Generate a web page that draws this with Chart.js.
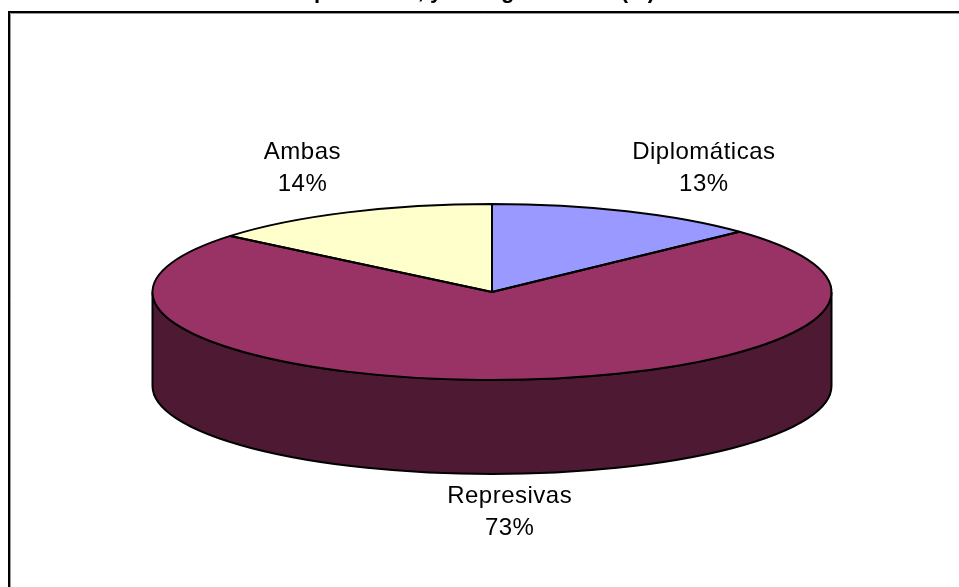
<!DOCTYPE html>
<html>
<head>
<meta charset="utf-8">
<title>Respuestas</title>
<script src="https://cdn.jsdelivr.net/npm/chart.js@4"></script>
<style>
  html, body { margin: 0; padding: 0; background: #fff; overflow: hidden; }
  #wrap { width: 959px; height: 587px; position: relative; }
</style>
</head>
<body>
<div id="wrap"><canvas id="pie"></canvas></div>
<script>
// values
const categories = ['Diplomáticas', 'Represivas', 'Ambas'];
const shares = [13, 73, 14];
const sliceColors = ['#9999FF', '#993366', '#FFFFCC'];
const wallColors = ['#4D4D80', '#4D1933', '#808066'];
const chartTitle = 'Tipos de medidas ante las otras presiones, y de región al Sur (%)';

// flattened 3D look
const rx = 339.5, ry = 88, depth = 94;
// label centre relative to the rim point at the slice's middle angle
const labelNudge = [[77, -43], [7, 132], [-45, -44]];

const pie3d = {
    id: 'pie3d',
    beforeDraw(chart) {
        const c = chart.ctx;
        c.save();
        // frame, cut off by the right and bottom edge of the picture
        c.strokeStyle = '#000';
        c.lineWidth = 2;
        c.beginPath();
        c.moveTo(9, 587);
        c.lineTo(9, 12);
        c.lineTo(959, 12);
        c.stroke();
        c.strokeStyle = '#999';
        c.lineWidth = 1;
        c.beginPath();
        c.moveTo(10.5, 587);
        c.lineTo(10.5, 13.5);
        c.lineTo(959, 13.5);
        c.stroke();
        // title, clipped by the top of the picture
        c.fillStyle = '#000';
        c.font = 'bold 22px "Liberation Sans"';
        c.textAlign = 'left';
        c.textBaseline = 'alphabetic';
        c.fillText(chartTitle, 655 - c.measureText(chartTitle).width, -2);
        c.restore();
    },
    beforeDatasetsDraw(chart) {
        const c = chart.ctx;
        const arcs = chart.getDatasetMeta(0).data;
        const cx = arcs[0].x, cy = arcs[0].y;
        // side wall, only the front half of the rim shows
        c.save();
        arcs.forEach((arc, i) => {
            const a0 = Math.max(arc.startAngle, 0);
            const a1 = Math.min(arc.endAngle, Math.PI);
            if (a1 <= a0) return;
            c.beginPath();
            c.ellipse(cx, cy, rx, ry, 0, a0, a1);
            c.ellipse(cx, cy + depth, rx, ry, 0, a1, a0, true);
            c.closePath();
            c.fillStyle = wallColors[i];
            c.fill();
            c.strokeStyle = '#000';
            c.lineWidth = 2;
            c.stroke();
        });
        c.restore();
        // squash the library's round pie into the top ellipse
        c.save();
        c.translate(cx, cy);
        c.scale(rx / arcs[0].outerRadius, ry / arcs[0].outerRadius);
        c.translate(-cx, -cy);
    },
    afterDatasetsDraw(chart) {
        const c = chart.ctx;
        c.restore();
        const arcs = chart.getDatasetMeta(0).data;
        const cx = arcs[0].x, cy = arcs[0].y;
        c.save();
        c.strokeStyle = '#000';
        c.lineWidth = 2;
        c.lineJoin = 'round';
        arcs.forEach(arc => {
            c.beginPath();
            c.moveTo(cx, cy);
            c.ellipse(cx, cy, rx, ry, 0, arc.startAngle, arc.endAngle);
            c.closePath();
            c.stroke();
        });
        // slice labels
        c.fillStyle = '#000';
        c.font = '24px "Liberation Sans"';
        c.letterSpacing = '0.5px';
        c.textAlign = 'center';
        c.textBaseline = 'middle';
        arcs.forEach((arc, i) => {
            const mid = (arc.startAngle + arc.endAngle) / 2;
            const x = cx + rx * Math.cos(mid) + labelNudge[i][0];
            const y = cy + ry * Math.sin(mid) + labelNudge[i][1];
            c.fillText(categories[i], x, y - 16);
            c.fillText(shares[i] + '%', x, y + 16);
        });
        c.restore();
    }
};

new Chart(document.getElementById('pie').getContext('2d'), {
    type: 'pie',
    data: {
        labels: categories,
        datasets: [{
            data: shares,
            backgroundColor: sliceColors,
            borderWidth: 0
        }]
    },
    options: {
        responsive: true,
        maintainAspectRatio: false,
        animation: false,
        layout: { padding: { left: 25, bottom: 3 } },
        plugins: {
            legend: { display: false },
            tooltip: { enabled: false }
        }
    },
    plugins: [pie3d]
});
</script>
</body>
</html>
